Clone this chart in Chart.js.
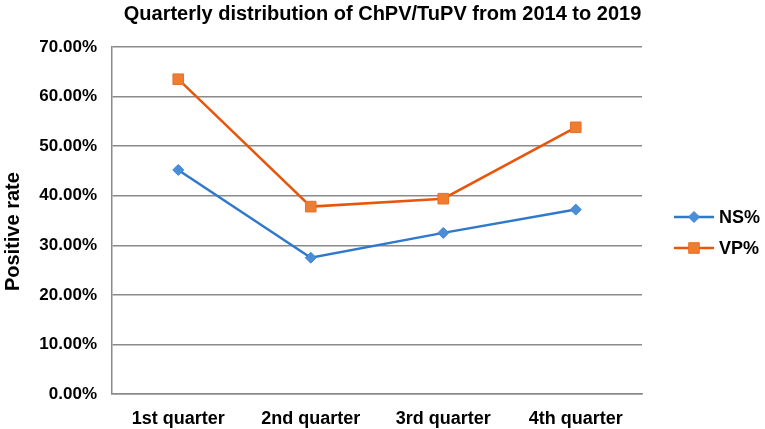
<!DOCTYPE html>
<html>
<head>
<meta charset="utf-8">
<title>Quarterly distribution of ChPV/TuPV</title>
<script src="https://cdn.jsdelivr.net/npm/chart.js@4.4.1/dist/chart.umd.min.js"></script>
<style>
  html, body { margin: 0; padding: 0; background: #fff; }
  #wrap { width: 765px; height: 429px; position: relative; }
</style>
</head>
<body>
<div id="wrap"><canvas id="quarterChart"></canvas></div>
<script>
// data
var quarters = ['1st quarter', '2nd quarter', '3rd quarter', '4th quarter'];
var nsRate = [45.2, 27.5, 32.5, 37.2];
var vpRate = [63.5, 37.8, 39.4, 53.8];
var seriesNames = ['NS%', 'VP%'];

var fontFamily = "'Liberation Sans', Arial, sans-serif";
var gridGray = '#8a8a8a';

// legend on the right: line with marker through it, like the Excel one
var sideLegend = {
  id: 'sideLegend',
  afterDraw: function (chart) {
    var ctx = chart.ctx;
    var x0 = 674, x1 = 714;
    var rows = [217, 248];
    chart.data.datasets.forEach(function (ds, i) {
      var y = rows[i];
      ctx.save();
      ctx.strokeStyle = ds.borderColor;
      ctx.lineWidth = ds.borderWidth;
      ctx.beginPath();
      ctx.moveTo(x0, y);
      ctx.lineTo(x1, y);
      ctx.stroke();
      ctx.fillStyle = ds.pointBackgroundColor;
      ctx.strokeStyle = ds.pointBorderColor;
      ctx.lineWidth = 1;
      Chart.helpers.drawPoint(ctx, {
        pointStyle: ds.pointStyle,
        radius: ds.pointRadius,
        rotation: 0,
        borderWidth: 1
      }, (x0 + x1) / 2, y);
      ctx.fillStyle = '#000';
      ctx.font = 'bold 18px ' + fontFamily;
      ctx.textBaseline = 'middle';
      ctx.textAlign = 'left';
      ctx.fillText(ds.label, 719, y + 1);
      ctx.restore();
    });
  }
};

var chart = new Chart(document.getElementById('quarterChart'), {
  type: 'line',
  data: {
    labels: quarters,
    datasets: [{
      label: seriesNames[0],
      data: nsRate,
      borderColor: '#2f78cc',
      borderWidth: 2.5,
      pointStyle: 'rectRot',
      pointRadius: 5.5,
      pointHoverRadius: 5.5,
      pointBackgroundColor: '#4a8ed8',
      pointBorderColor: '#3f84d2',
      pointBorderWidth: 1,
      tension: 0
    }, {
      label: seriesNames[1],
      data: vpRate,
      borderColor: '#e8560c',
      borderWidth: 2.5,
      pointStyle: 'rect',
      pointRadius: 7.5,
      pointHoverRadius: 7.5,
      pointBackgroundColor: '#ee7d34',
      pointBorderColor: '#ea6f25',
      pointBorderWidth: 1,
      tension: 0
    }]
  },
  options: {
    responsive: true,
    maintainAspectRatio: false,
    animation: false,
    layout: {
      padding: 0
    },
    scales: {
      x: {
        offset: true,
        grid: { display: false, drawTicks: false },
        border: { display: true, color: gridGray, width: 1.5 },
        ticks: {
          color: '#000',
          padding: 14,
          font: { family: fontFamily, size: 18, weight: 'bold' }
        },
        afterFit: function (scale) { scale.height = 35; }
      },
      y: {
        min: 0,
        max: 70,
        grid: { color: gridGray, lineWidth: 1.5, drawTicks: false },
        border: { display: true, color: gridGray, width: 1.5 },
        ticks: {
          stepSize: 10,
          color: '#000',
          padding: 15,
          font: { family: fontFamily, size: 17, weight: 'bold' },
          callback: function (v) { return v.toFixed(2) + '%'; }
        },
        title: {
          display: true,
          // trailing spaces push the label a little below the middle, as in the original
          text: 'Positive rate    ',
          color: '#000',
          padding: { top: 1, bottom: 0 },
          font: { family: fontFamily, size: 20, weight: 'bold' }
        },
        afterFit: function (scale) { scale.width = 112; }
      },
      // empty box on the right that keeps room for the legend
      legendRoom: {
        type: 'linear',
        position: 'right',
        display: true,
        grid: { display: false, drawTicks: false },
        border: { display: false },
        ticks: { display: false },
        afterFit: function (scale) { scale.width = 123; }
      }
    },
    plugins: {
      legend: { display: false },
      tooltip: { enabled: false },
      title: {
        display: true,
        text: 'Quarterly distribution of ChPV/TuPV from 2014 to 2019',
        color: '#000',
        padding: { top: 2, bottom: 21 },
        font: { family: fontFamily, size: 20, weight: 'bold' }
      }
    }
  },
  plugins: [sideLegend]
});
</script>
</body>
</html>
